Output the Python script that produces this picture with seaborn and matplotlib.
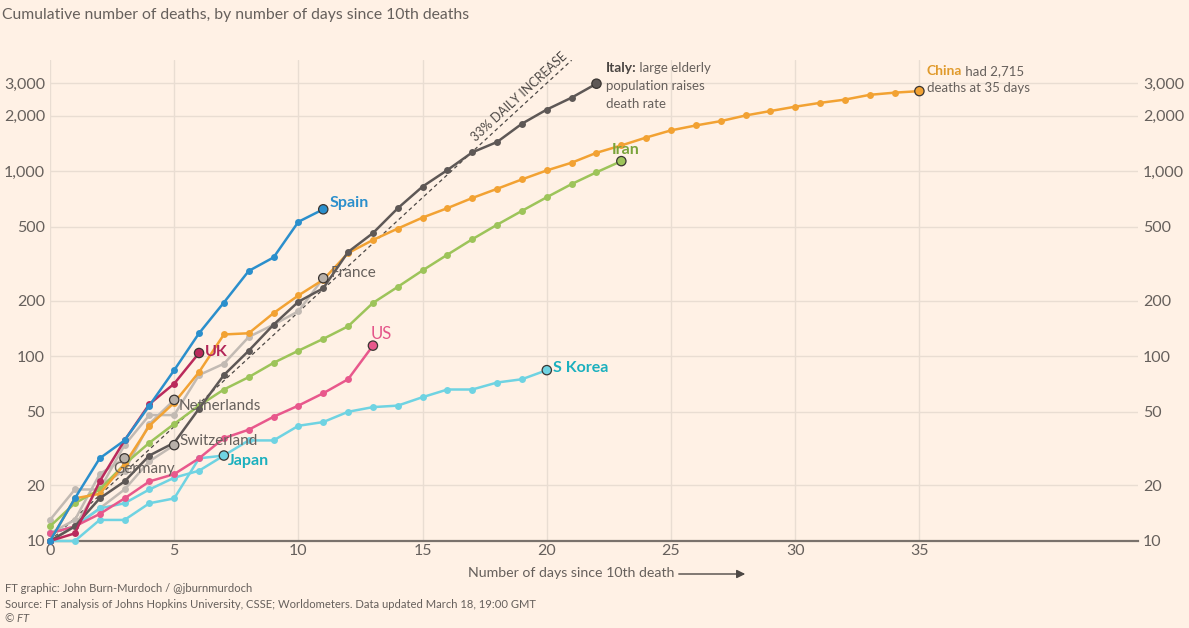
import numpy as np
import pandas as pd
import matplotlib
matplotlib.use("Agg")
import matplotlib.pyplot as plt
import seaborn as sns

# ---------------- data ----------------
italy = [10, 12, 17, 21, 29, 34, 52, 79, 107, 148, 197, 233, 366, 463, 631, 827, 1016,
         1266, 1441, 1809, 2158, 2503, 2978]
china = [10, 17, 18, 26, 42, 56, 82, 131, 133, 171, 213, 259, 361, 425, 490, 562, 632, 717,
         804, 904, 1011, 1113, 1259, 1380, 1523, 1665, 1770, 1868, 2004, 2118, 2236, 2345,
         2442, 2592, 2663, 2715]
iran = [12, 16, 19, 26, 34, 43, 54, 66, 77, 92, 107, 124, 145, 194, 237, 291, 354, 429, 514,
        611, 724, 853, 988, 1135]
spain = [10, 17, 28, 35, 54, 84, 133, 195, 289, 342, 533, 623]
uk = [10, 11, 21, 35, 55, 71, 104]
us = [11, 12, 14, 17, 21, 23, 28, 36, 40, 47, 54, 63, 75, 114]
s_korea = [11, 12, 15, 16, 19, 22, 24, 29, 35, 35, 42, 44, 50, 53, 54, 60, 66, 66, 72, 75, 84]
japan = [10, 10, 13, 13, 16, 17, 28, 29]
france = [13, 19, 19, 33, 48, 48, 79, 91, 127, 148, 175, 264]
germany = [11, 13, 23, 28]
netherlands = [10, 12, 20, 24, 43, 58]
switzerland = [10, 12, 15, 19, 27, 33]

daily_increase = 0.33          # reference guide: 33% daily increase from 10 deaths
guide_days = 21

y_ticks = [10, 20, 50, 100, 200, 500, 1000, 2000, 3000]
y_tick_labels = ["10", "20", "50", "100", "200", "500", "1,000", "2,000", "3,000"]
x_ticks = [0, 5, 10, 15, 20, 25, 30, 35]

series = {
    "Germany": germany, "Netherlands": netherlands, "Switzerland": switzerland,
    "France": france, "Japan": japan, "S Korea": s_korea, "US": us, "Iran": iran,
    "China": china, "Italy": italy, "UK": uk, "Spain": spain,
}

rows = []
for name, vals in series.items():
    for d, v in enumerate(vals):
        rows.append((name, d, v))
df = pd.DataFrame(rows, columns=["country", "day", "deaths"])
ends = df.groupby("country", sort=False).tail(1)

# ---------------- styling ----------------
BG = "#FFF1E5"
GRID = "#E9DDD2"
TXT = "#66605C"
GRAYLINE = "#C2BAB3"
line_pal = {
    "Germany": GRAYLINE, "Netherlands": GRAYLINE, "Switzerland": GRAYLINE, "France": GRAYLINE,
    "Japan": "#6FD3E2", "S Korea": "#6FD3E2", "US": "#E8588C", "Iran": "#9DC45A",
    "China": "#F2A233", "Italy": "#5E5856", "UK": "#BA2A5C", "Spain": "#2B8FCC",
}
end_pal = dict(line_pal)
for g in ["Germany", "Netherlands", "Switzerland", "France"]:
    end_pal[g] = "#B8B0A9"

sns.set_theme(style="white")
plt.rcParams["font.family"] = ["Lato", "DejaVu Sans"]

fig = plt.figure(figsize=(11.89, 6.28), dpi=100, facecolor=BG)
ax = fig.add_axes([50 / 1189, 87 / 628, (1138 - 50) / 1189, (541 - 60) / 628])
ax.set_facecolor(BG)

order = list(series.keys())
sns.lineplot(data=df, x="day", y="deaths", hue="country", hue_order=order, palette=line_pal,
             marker="o", markersize=5, markeredgewidth=0, linewidth=1.8, legend=False,
             sort=False, ax=ax, clip_on=False, zorder=3)
sns.scatterplot(data=ends, x="day", y="deaths", hue="country", hue_order=order, palette=end_pal,
                s=45, edgecolor="#3a3532", linewidth=0.9, legend=False, ax=ax, zorder=5,
                clip_on=False)

# 33% daily increase guide
gd = np.arange(0, guide_days + 0.01, 0.1)
guide = pd.DataFrame({"day": gd, "deaths": 10 * (1 + daily_increase) ** gd})
sns.lineplot(data=guide, x="day", y="deaths", color="#4d4845", linewidth=0.9,
             linestyle=(0, (3, 2.5)), ax=ax, zorder=2, legend=False)

ax.set_yscale("log")
ax.set_ylim(10, 4000)
ax.set_xlim(0, 43.8)
ax.set_yticks(y_ticks)
ax.set_yticklabels(y_tick_labels)
ax.minorticks_off()
ax.set_xticks(x_ticks)
ax.set_xticklabels([str(t) for t in x_ticks])
ax.tick_params(axis="y", which="both", length=0, labelsize=11.5, labelcolor=TXT,
               labelleft=True, labelright=True, pad=3.5)
ax.tick_params(axis="x", length=0, labelsize=11.5, labelcolor=TXT, pad=2)
ax.grid(True, color=GRID, linewidth=1.0, zorder=0)
ax.set_axisbelow(True)
for s in ["top", "left", "right"]:
    ax.spines[s].set_visible(False)
ax.spines["bottom"].set_color("#7a726c")
ax.spines["bottom"].set_linewidth(1.6)
ax.set_xlabel("")
ax.set_ylabel("")

# ---------------- labels ----------------
def lab(x, y, s, color, bold=True, size=11.5, **kw):
    return ax.text(x, y, s, color=color, fontsize=size,
                   fontweight="bold" if bold else "normal", va="center", ha="left",
                   zorder=6, **kw)

lab(11.25, 673, "Spain", "#2B8FCC")
lab(6.23, 105, "UK", "#B22558")
lab(12.9, 132, "US", "#E4568A", bold=False, size=12)
lab(20.23, 86, "S Korea", "#1BB0BE")
lab(7.16, 27.1, "Japan", "#1BB0BE")
lab(22.6, 1303, "Iran", "#79A33A")
lab(11.3, 281, "France", TXT, bold=False, size=11)
lab(5.19, 54, "Netherlands", TXT, bold=False, size=11)
lab(5.23, 34.8, "Switzerland", TXT, bold=False, size=11)
lab(2.53, 24.5, "Germany", TXT, bold=False, size=11)

t1 = lab(22.37, 3612, "Italy:", "#4a4542", size=10)
ax.annotate(" large elderly", xy=(1, 0), xycoords=t1, va="bottom", ha="left",
            fontsize=9.5, color=TXT)
lab(22.37, 2891, "population raises", TXT, bold=False, size=9.5)
lab(22.37, 2307, "death rate", TXT, bold=False, size=9.5)

t2 = lab(35.3, 3483, "China", "#E09A2C", size=10)
ax.annotate(" had 2,715", xy=(1, 0), xycoords=t2, va="bottom", ha="left",
            fontsize=9.5, color=TXT)
lab(35.3, 2818, "deaths at 35 days", TXT, bold=False, size=9.5)

ax.text(18.9, 2518, "33% DAILY INCREASE", rotation=42.6, rotation_mode="anchor",
        ha="center", va="center", fontsize=9, color="#4d4845", zorder=6)

# ---------------- titles / footer ----------------
fig.text(2 / 1189, 1 - 15 / 628, "Cumulative number of deaths, by number of days since 10th deaths",
         fontsize=11.3, color=TXT, va="center", ha="left")
fig.text(468 / 1189, 1 - 573 / 628, "Number of days since 10th death",
         fontsize=10.2, color=TXT, va="center", ha="left")
fig.add_artist(matplotlib.patches.FancyArrowPatch(
    (676 / 1189, 1 - 574 / 628), (748 / 1189, 1 - 574 / 628), transform=fig.transFigure,
    arrowstyle="-|>,head_length=5,head_width=2.5", color="#4d4845", linewidth=1.0))
fig.text(5 / 1189, 1 - 588 / 628, "FT graphic: John Burn-Murdoch / @jburnmurdoch",
         fontsize=8.1, color=TXT, va="center", ha="left")
fig.text(5 / 1189, 1 - 604 / 628,
         "Source: FT analysis of Johns Hopkins University, CSSE; Worldometers. Data updated March 18, 19:00 GMT",
         fontsize=8.1, color=TXT, va="center", ha="left")
fig.text(5 / 1189, 1 - 619 / 628, "© FT", fontsize=8.1, color=TXT, va="center", ha="left",
         style="italic")

fig.savefig("out.png", dpi=100, facecolor=BG)
